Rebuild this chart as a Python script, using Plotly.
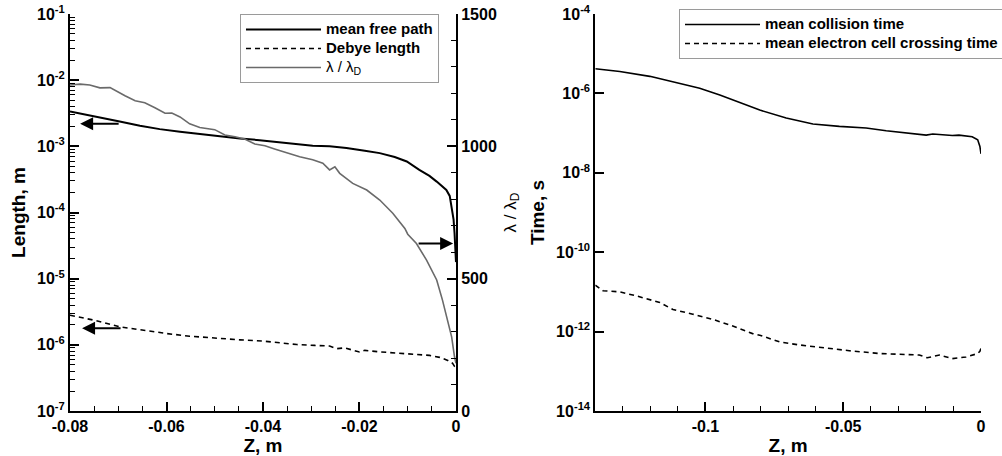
import plotly.graph_objects as go

FONT = "Liberation Sans"

# ---------------- Left panel data ----------------
z_mfp = [-0.08, -0.0738, -0.0697, -0.0655, -0.0614, -0.0572, -0.0531, -0.0490, -0.0448,
         -0.0407, -0.0365, -0.0324, -0.0297, -0.0262, -0.0227, -0.0189, -0.0158, -0.0127,
         -0.0102, -0.0076, -0.0055, -0.0040, -0.0028, -0.0020, -0.0013, -0.0009, -0.0005,
         -0.0003, 0.0]
mean_free_path = [3.37e-3, 2.77e-3, 2.38e-3, 2.05e-3, 1.82e-3, 1.66e-3, 1.53e-3, 1.41e-3, 1.31e-3,
                  1.24e-3, 1.16e-3, 1.07e-3, 1.02e-3, 1.00e-3, 9.4e-4, 8.55e-4, 7.9e-4, 6.9e-4,
                  5.9e-4, 4.4e-4, 3.57e-4, 2.93e-4, 2.48e-4, 2.19e-4, 1.78e-4, 1.22e-4, 7.8e-5,
                  4.9e-5, 1.78e-5]

z_debye = [-0.08, -0.0748, -0.0697, -0.0645, -0.0599, -0.0552, -0.0500, -0.0448, -0.0400,
           -0.0365, -0.0330, -0.0293, -0.0262, -0.0247, -0.0231, -0.0200, -0.0189, -0.0158,
           -0.0117, -0.0086, -0.0055, -0.0034, -0.0017, -0.0007, -0.0003, 0.0]
debye_length = [2.80e-6, 2.34e-6, 1.87e-6, 1.63e-6, 1.48e-6, 1.35e-6, 1.26e-6, 1.19e-6, 1.14e-6,
                1.06e-6, 1.01e-6, 9.8e-7, 9.6e-7, 8.75e-7, 9.0e-7, 7.8e-7, 8.26e-7, 7.83e-7,
                7.36e-7, 7.18e-7, 6.93e-7, 6.47e-7, 5.82e-7, 5.25e-7, 4.72e-7, 4.4e-7]

z_ratio = [-0.0800, -0.0779, -0.0759, -0.0738, -0.0717, -0.0707, -0.0686, -0.0665, -0.0645,
           -0.0624, -0.0603, -0.0589, -0.0572, -0.0552, -0.0531, -0.0500, -0.0479, -0.0458,
           -0.0438, -0.0417, -0.0396, -0.0376, -0.0355, -0.0345, -0.0324, -0.0297, -0.0276,
           -0.0262, -0.0251, -0.0241, -0.0214, -0.0185, -0.0158, -0.0131, -0.0106, -0.0100,
           -0.0082, -0.0061, -0.0040, -0.0028, -0.0017, -0.0009, -0.0003, 0.0]
ratio = [1232, 1235, 1232, 1221, 1222, 1213, 1191, 1172, 1165,
         1146, 1125, 1126, 1111, 1085, 1071, 1063, 1043, 1036,
         1028, 1009, 1002, 990, 979, 971, 961, 949, 936,
         911, 923, 898, 860, 835, 797, 747, 690, 668,
         633, 570, 495, 419, 343, 280, 204, 180]

# ---------------- Right panel data ----------------
z_coll = [-0.14, -0.1311, -0.1202, -0.1093, -0.1021, -0.0948, -0.0876, -0.0803, -0.0707,
          -0.0610, -0.0514, -0.0417, -0.0344, -0.0272, -0.0249, -0.0224, -0.0199, -0.0175,
          -0.0151, -0.0127, -0.0104, -0.0080, -0.0054, -0.0032, -0.0012, -0.0004, 0.0]
collision_time = [4.17e-6, 3.55e-6, 2.69e-6, 1.82e-6, 1.35e-6, 9.1e-7, 5.9e-7, 3.8e-7, 2.4e-7,
                  1.70e-7, 1.48e-7, 1.35e-7, 1.15e-7, 1.02e-7, 1.00e-7, 9.3e-8, 8.9e-8, 9.5e-8,
                  9.1e-8, 8.7e-8, 8.7e-8, 8.9e-8, 8.3e-8, 8.1e-8, 6.8e-8, 4.6e-8, 3.0e-8]

z_cross = [-0.14, -0.1372, -0.1311, -0.1250, -0.1166, -0.1118, -0.1046, -0.0974, -0.0901,
           -0.0829, -0.0803, -0.0731, -0.0658, -0.0575, -0.0478, -0.0369, -0.0272, -0.0224,
           -0.0195, -0.0151, -0.0104, -0.0054, -0.0012, -0.0004, 0.0]
crossing_time = [1.48e-11, 1.07e-11, 1.00e-11, 7.9e-12, 5.4e-12, 3.6e-12, 2.75e-12, 2.04e-12, 1.38e-12,
                 8.9e-13, 8.1e-13, 5.5e-13, 4.6e-13, 3.9e-13, 3.3e-13, 2.8e-13, 2.7e-13, 2.57e-13,
                 2.19e-13, 2.57e-13, 2.09e-13, 2.29e-13, 2.8e-13, 3.2e-13, 3.8e-13]

# ---------------- tick labels ----------------
left_x_ticks = [-0.08, -0.06, -0.04, -0.02, 0]
left_x_labels = ["-0.08", "-0.06", "-0.04", "-0.02", "0"]
left_y_ticks = [1e-7, 1e-6, 1e-5, 1e-4, 1e-3, 1e-2, 1e-1]
left_y_labels = ["10<sup>-7</sup>", "10<sup>-6</sup>", "10<sup>-5</sup>", "10<sup>-4</sup>",
                 "10<sup>-3</sup>", "10<sup>-2</sup>", "10<sup>-1</sup>"]
right_x_ticks = [-0.1, -0.05, 0]
right_x_labels = ["-0.1", "-0.05", "0"]
right_y_ticks = [1e-14, 1e-12, 1e-10, 1e-8, 1e-6, 1e-4]
right_y_labels = ["10<sup>-14</sup>", "10<sup>-12</sup>", "10<sup>-10</sup>", "10<sup>-8</sup>",
                  "10<sup>-6</sup>", "10<sup>-4</sup>"]
ratio_ticks = [0, 500, 1000, 1500]

minor_log = [m * 10.0 ** e for e in range(-7, -1) for m in range(2, 10)]

GRAY = "#6a6a6a"
LEG = '<span style="font-size:15px">{}</span>'

fig = go.Figure()
fig.add_trace(go.Scatter(x=z_mfp, y=mean_free_path, mode="lines",
                         name=LEG.format("<b>mean free path</b>"),
                         line=dict(color="black", width=2), xaxis="x", yaxis="y", legend="legend"))
fig.add_trace(go.Scatter(x=z_debye, y=debye_length, mode="lines",
                         name=LEG.format("<b>Debye length</b>"),
                         line=dict(color="black", width=1.6, dash="5px,4px"), xaxis="x", yaxis="y",
                         legend="legend"))
fig.add_trace(go.Scatter(x=z_ratio, y=ratio, mode="lines",
                         name=LEG.format("λ / λ<sub>D</sub>"),
                         line=dict(color=GRAY, width=1.6), xaxis="x", yaxis="y2", legend="legend"))
fig.add_trace(go.Scatter(x=z_coll, y=collision_time, mode="lines",
                         name=LEG.format("<b>mean collision time</b>"),
                         line=dict(color="black", width=1.6), xaxis="x2", yaxis="y3", legend="legend2"))
fig.add_trace(go.Scatter(x=z_cross, y=crossing_time, mode="lines",
                         name=LEG.format("<b>mean electron cell crossing time</b>"),
                         line=dict(color="black", width=1.6, dash="5px,4px"), xaxis="x2", yaxis="y3",
                         legend="legend2"))

tickfont = dict(family=FONT, size=16, color="black", weight="bold")
titlefont = dict(family=FONT, size=19, color="black", weight="bold")
axis_common = dict(showline=True, linewidth=2, linecolor="black", ticks="inside", tickwidth=2,
                   tickcolor="black", ticklen=9, showgrid=False, zeroline=False, tickfont=tickfont,
                   automargin=False, ticklabeloverflow="allow")

fig.update_layout(
    width=1002, height=456,
    margin=dict(l=70, r=21, t=14, b=45, autoexpand=False),
    paper_bgcolor="white", plot_bgcolor="white",
    font=dict(family=FONT, size=15, color="black"),
    xaxis=dict(domain=[0, 0.4237], range=[-0.08, 0], anchor="y",
               tickmode="array", tickvals=left_x_ticks, ticktext=left_x_labels,
               minor=dict(dtick=0.005, tick0=0, ticks="inside", ticklen=5, tickwidth=1, tickcolor="black"),
               title=dict(text="Z, m", font=titlefont, standoff=4), **axis_common),
    yaxis=dict(type="log", range=[-7, -1], anchor="x",
               tickmode="array", tickvals=left_y_ticks, ticktext=left_y_labels,
               minor=dict(tickmode="array", tickvals=minor_log, ticks="inside", ticklen=5, tickwidth=1,
                          tickcolor="black"),
               title=dict(text="Length, m", font=titlefont, standoff=6), **axis_common),
    yaxis2=dict(overlaying="y", side="right", anchor="x", range=[0, 1500],
                tickmode="array", tickvals=ratio_ticks,
                minor=dict(dtick=100, tick0=0, ticks="inside", ticklen=5, tickwidth=1, tickcolor="black"),
                title=dict(text="λ / λ<sub>D</sub>", font=dict(family=FONT, size=17, color="black"),
                           standoff=8), **axis_common),
    xaxis2=dict(domain=[0.5766, 1], range=[-0.14, 0], anchor="y3",
                tickmode="array", tickvals=right_x_ticks, ticktext=right_x_labels,
                minor=dict(dtick=0.01, tick0=0, ticks="inside", ticklen=5, tickwidth=1, tickcolor="black"),
                title=dict(text="Z, m", font=titlefont, standoff=4), **axis_common),
    yaxis3=dict(type="log", range=[-14, -4], anchor="x2",
                tickmode="array", tickvals=right_y_ticks, ticktext=right_y_labels,
                title=dict(text="Time, s", font=titlefont, standoff=6), **axis_common),
    legend=dict(x=0.1866, y=1.0, xanchor="left", yanchor="top", bgcolor="white",
                bordercolor="#9a9a9a", borderwidth=1, itemwidth=75,
                font=dict(family=FONT, size=11, color="black"), tracegroupgap=0),
    legend2=dict(x=0.6685, y=1.0126, xanchor="left", yanchor="top", bgcolor="white",
                 bordercolor="#9a9a9a", borderwidth=1, itemwidth=75,
                 font=dict(family=FONT, size=11, color="black"), tracegroupgap=0),
    showlegend=True,
)

arrow = dict(text="", showarrow=True, arrowhead=2, arrowsize=1.3, arrowwidth=2,
             arrowcolor="black", ay=0, standoff=0)
fig.add_annotation(x=-0.0779, y=-2.659, xref="x", yref="y", ax=40, **arrow)
fig.add_annotation(x=-0.0775, y=-5.75, xref="x", yref="y", ax=40, **arrow)
fig.add_annotation(x=-0.0006, y=633, xref="x", yref="y2", ax=-36, **arrow)

fig.write_html("out.html", config={"displayModeBar": False},
               post_script="document.body.style.margin='0';")
